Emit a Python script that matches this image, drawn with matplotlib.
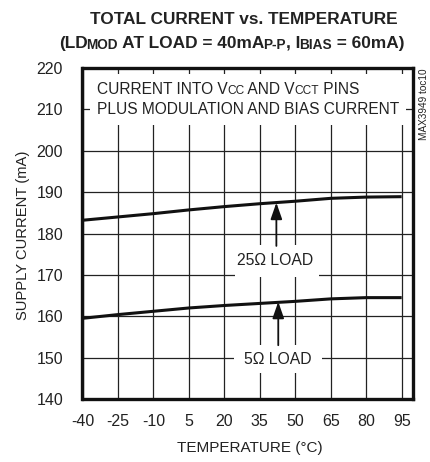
import matplotlib
matplotlib.use("Agg")
import matplotlib.pyplot as plt
from matplotlib.patches import Rectangle
from matplotlib.transforms import IdentityTransform

FAM = ['Liberation Sans', 'DejaVu Sans']
plt.rcParams['font.family'] = FAM
plt.rcParams['axes.unicode_minus'] = False

temps = [-40, -25, -10, 5, 20, 35, 50, 65, 80, 95]
load25 = [183.2, 184.0, 184.8, 185.7, 186.5, 187.2, 187.8, 188.5, 188.8, 188.9]
load5 = [159.5, 160.4, 161.2, 162.0, 162.6, 163.1, 163.6, 164.2, 164.5, 164.5]
xticks = [-40, -25, -10, 5, 20, 35, 50, 65, 80, 95]
yticks = [140, 150, 160, 170, 180, 190, 200, 210, 220]

W, H = 431, 462
TXT = '#222222'
fig = plt.figure(figsize=(W / 100, H / 100), dpi=100)
ax = fig.add_axes([82.5 / W, 1 - 399 / H, (413.5 - 82.5) / W, (399 - 68) / H])
ax.set_xlim(-40, 100)
ax.set_ylim(140, 220)
ax.set_xticks(xticks)
ax.set_yticks(yticks)
ax.tick_params(length=0, labelsize=11.5, pad=11, labelcolor=TXT)
ax.tick_params(axis='y', pad=14)
ax.grid(True, color='#222222', linewidth=0.9)
ax.set_axisbelow(True)
for s in ax.spines.values():
    s.set_linewidth(2.4)
    s.set_color('#111111')

ax.plot(temps, load25, color='#111111', lw=2.2, zorder=4, solid_capstyle='butt')
ax.plot(temps, load5, color='#111111', lw=2.2, zorder=4, solid_capstyle='butt')

# white boxes hiding grid
ax.add_patch(Rectangle((-36.8, 206.3), 133.5, 12.3, facecolor='white', edgecolor='none', zorder=2))
ax.add_patch(Rectangle((24.5, 169.5), 35.5, 7.6, facecolor='white', edgecolor='none', zorder=2))
ax.add_patch(Rectangle((24.0, 146.2), 37.5, 6.9, facecolor='white', edgecolor='none', zorder=2))

ax.text(41.5, 173.4, '25Ω LOAD', ha='center', va='center', fontsize=11.3, color=TXT, zorder=5)
ax.text(42.5, 149.5, '5Ω LOAD', ha='center', va='center', fontsize=11.3, color=TXT, zorder=5)

ax.annotate('', xy=(42, 187.45), xytext=(42, 177),
            arrowprops=dict(arrowstyle='-|>,head_length=1.0,head_width=0.35', color='#111111', lw=1.3, shrinkA=0, shrinkB=0), zorder=5)
ax.annotate('', xy=(42.8, 163.5), xytext=(42.8, 153),
            arrowprops=dict(arrowstyle='-|>,head_length=1.0,head_width=0.35', color='#111111', lw=1.3, shrinkA=0, shrinkB=0), zorder=5)

renderer = fig.canvas.get_renderer()

def row(parts, x, y_top, big, small, weight='normal', align='left', tight=0.0, zorder=6):
    """Place text pieces side by side on a common baseline (pixel coords from top-left)."""
    yb = H - y_top
    arts = []
    for txt, sub in parts:
        t = fig.text(0, yb - (1 if sub else 0), txt, transform=IdentityTransform(),
                     fontsize=small if sub else big,
                     fontweight=weight, color=TXT, va='baseline', ha='left', zorder=zorder)
        arts.append((t, txt))
    widths = []
    for i, (t, txt) in enumerate(arts):
        bb = t.get_window_extent(renderer)
        w = bb.width
        if i < len(arts) - 1 and arts[i + 1][1][0].isalnum() and txt[-1].isalnum():
            w -= tight
        widths.append(w)
    total = sum(widths)
    cx = x - total / 2 if align == 'center' else x
    for (t, _), w in zip(arts, widths):
        t.set_x(cx)
        cx += w

# annotation text in plot (baselines)
row([('CURRENT INTO V', False), ('CC', True), (' AND V', False), ('CCT', True), (' PINS', False)],
    97, 93.5, 11.2, 8.6, tight=0.8)
row([('PLUS MODULATION AND BIAS CURRENT', False)], 97, 114.5, 11.2, 8.6)

# title
row([('TOTAL CURRENT vs. TEMPERATURE', False)], 243.5, 23.5, 12.4, 9.8, weight='bold', align='center')
row([('(LD', False), ('MOD', True), (' AT LOAD = 40mA', False), ('P-P', True),
     (', I', False), ('BIAS', True), (' = 60mA)', False)], 231.5, 48, 12.4, 9.8,
    weight='bold', align='center', tight=1.0)

fig.text(250 / W, 1 - 448 / H, 'TEMPERATURE (°C)', ha='center', va='center', fontsize=11, color=TXT)
fig.text(23 / W, 1 - 235 / H, 'SUPPLY CURRENT (mA)', rotation=90, ha='center', va='center', fontsize=10.6, color=TXT)

fig.text(424 / W, 1 - 104 / H, 'MAX3949 toc10', rotation=90, ha='center', va='center', fontsize=7.2, color=TXT)

fig.savefig('out.png', dpi=100)
